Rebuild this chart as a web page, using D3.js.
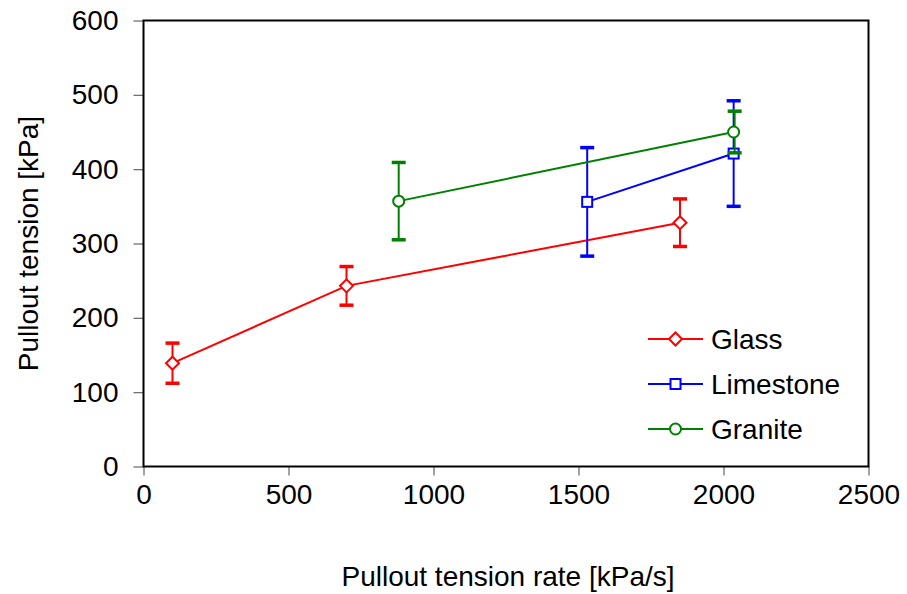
<!DOCTYPE html>
<html>
<head>
<meta charset="utf-8">
<script src="https://cdn.jsdelivr.net/npm/d3@7"></script>
<style>
  body { margin: 0; background: #fff; }
  svg { display: block; font-family: "Liberation Sans", Arial, sans-serif; }
</style>
</head>
<body>
<svg id="chart" width="907" height="594"></svg>
<script>
// ---- Data ----
const seriesNames = ["Glass", "Limestone", "Granite"];
const seriesColors = ["#ff0000", "#0000ff", "#008000"];
const seriesSymbols = ["diamond", "square", "circle"];

const glassRate = [100, 700, 1850];
const glassTension = [139, 243, 328];
const glassErr = [27, 26, 32];

const limestoneRate = [1530, 2035];
const limestoneTension = [356, 421];
const limestoneErr = [73, 71];

const graniteRate = [880, 2035];
const graniteTension = [357, 450];
const graniteErr = [52, 28];

const xTicks = [0, 500, 1000, 1500, 2000, 2500];
const yTicks = [0, 100, 200, 300, 400, 500, 600];

const xTitle = "Pullout tension rate [kPa/s]";
const yTitle = "Pullout tension [kPa]";

const series = [
  { name: seriesNames[0], color: seriesColors[0], sym: seriesSymbols[0],
    pts: glassRate.map((r, i) => ({ x: r, y: glassTension[i], e: glassErr[i] })) },
  { name: seriesNames[1], color: seriesColors[1], sym: seriesSymbols[1],
    pts: limestoneRate.map((r, i) => ({ x: r, y: limestoneTension[i], e: limestoneErr[i] })) },
  { name: seriesNames[2], color: seriesColors[2], sym: seriesSymbols[2],
    pts: graniteRate.map((r, i) => ({ x: r, y: graniteTension[i], e: graniteErr[i] })) }
];

// ---- Layout ----
const svg = d3.select("#chart");
const L = 143.5, R = 868.5, T = 20.5, B = 466.5;
const x = d3.scaleLinear().domain([0, 2500]).range([L, R]);
const y = d3.scaleLinear().domain([0, 600]).range([B, T]);
const fontSize = 28;

// Axes
const xAxis = svg.append("g").attr("transform", `translate(0,${B})`)
  .call(d3.axisBottom(x).tickValues(xTicks).tickFormat(d3.format("d")).tickSize(9).tickPadding(9));
const yAxis = svg.append("g").attr("transform", `translate(${L},0)`)
  .call(d3.axisLeft(y).tickValues(yTicks).tickFormat(d3.format("d")).tickSize(10).tickPadding(15));
[xAxis, yAxis].forEach(a => {
  a.select(".domain").remove();
  a.selectAll(".tick line").attr("stroke", "#666").attr("stroke-width", 1.2);
  a.selectAll(".tick text").attr("font-size", fontSize).attr("fill", "#000")
    .attr("font-family", "Liberation Sans, Arial, sans-serif");
});
xAxis.selectAll(".tick text").attr("dy", "0.71em");

// Plot frame
svg.append("rect").attr("x", L).attr("y", T).attr("width", R - L).attr("height", B - T)
  .attr("fill", "none").attr("stroke", "#000").attr("stroke-width", 2);

// Titles
svg.append("text").attr("x", (L + R) / 2 + 2).attr("y", 586)
  .attr("text-anchor", "middle").attr("font-size", fontSize).text(xTitle);
svg.append("text").attr("transform", `translate(38,${(T + B) / 2}) rotate(-90)`)
  .attr("text-anchor", "middle").attr("font-size", fontSize).text(yTitle);

// Marker drawing
function drawMarker(g, sym, cx, cy, color) {
  if (sym === "diamond") {
    const s = 6.5;
    g.append("path").attr("d", `M${cx},${cy - s}L${cx + s},${cy}L${cx},${cy + s}L${cx - s},${cy}Z`)
      .attr("fill", "#fff").attr("stroke", color).attr("stroke-width", 2);
  } else if (sym === "square") {
    const s = 5;
    g.append("rect").attr("x", cx - s).attr("y", cy - s).attr("width", 2 * s).attr("height", 2 * s)
      .attr("fill", "#fff").attr("stroke", color).attr("stroke-width", 2);
  } else {
    g.append("circle").attr("cx", cx).attr("cy", cy).attr("r", 5.5)
      .attr("fill", "#fff").attr("stroke", color).attr("stroke-width", 2);
  }
}

// Series
const line = d3.line().x(d => x(d.x)).y(d => y(d.y));
series.forEach((s, si) => {
  const g = svg.append("g");
  const off = si === 2 ? 1 : 0;
  s.pts.forEach(p => {
    const cx = x(p.x) + (p.x > 2000 ? off : 0);
    g.append("line").attr("x1", cx).attr("x2", cx).attr("y1", y(p.y + p.e)).attr("y2", y(p.y - p.e))
      .attr("stroke", s.color).attr("stroke-width", 2);
    [p.y + p.e, p.y - p.e].forEach(v => {
      g.append("line").attr("x1", cx - 7).attr("x2", cx + 7).attr("y1", y(v)).attr("y2", y(v))
        .attr("stroke", s.color).attr("stroke-width", 3.5);
    });
  });
  g.append("path").datum(s.pts).attr("d", line).attr("fill", "none")
    .attr("stroke", s.color).attr("stroke-width", 2);
  s.pts.forEach(p => drawMarker(g, s.sym, x(p.x), y(p.y), s.color));
});

// Legend
const legY = [339, 384, 429];
series.forEach((s, i) => {
  const g = svg.append("g");
  g.append("line").attr("x1", 648).attr("x2", 703).attr("y1", legY[i]).attr("y2", legY[i])
    .attr("stroke", s.color).attr("stroke-width", 2);
  drawMarker(g, s.sym, 675.5, legY[i], s.color);
  g.append("text").attr("x", 711).attr("y", legY[i] + 10).attr("font-size", fontSize).text(s.name);
});
</script>
</body>
</html>
